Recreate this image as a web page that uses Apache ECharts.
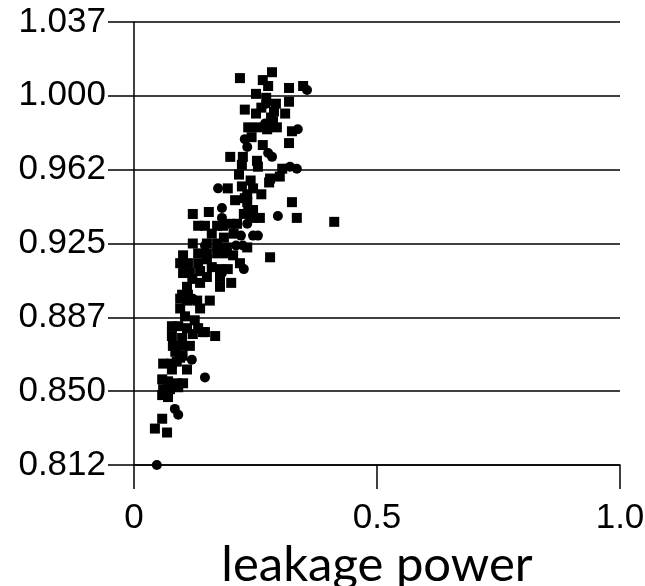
<!DOCTYPE html>
<html>
<head>
<meta charset="utf-8">
<script src="https://cdn.jsdelivr.net/npm/echarts@6/dist/echarts.min.js"></script>
<style>
html, body { margin: 0; background: #fff; }
#main { width: 645px; height: 586px; }
</style>
</head>
<body>
<div id="main"></div>
<script>
// axis ticks and their printed labels
var yTickValues = [0.8125, 0.85, 0.8875, 0.925, 0.9625, 1.0, 1.0375];
var yTickLabels = ['0.812', '0.850', '0.887', '0.925', '0.962', '1.000', '1.037'];
var xTickValues = [0, 0.5, 1.0];
var xTickLabels = ['0', '0.5', '1.0'];

// [leakage power, normalized value] - square markers
var squarePoints = [
  [0.218, 1.009], [0.284, 1.012], [0.265, 1.008], [0.276, 1.005], [0.319, 1.004],
  [0.348, 1.005], [0.251, 1.001], [0.272, 0.999], [0.319, 0.997], [0.292, 0.996],
  [0.228, 0.993], [0.251, 0.991], [0.288, 0.992], [0.311, 0.991], [0.282, 0.989],
  [0.286, 0.987], [0.235, 0.984], [0.255, 0.984], [0.274, 0.983], [0.294, 0.984],
  [0.325, 0.982], [0.319, 0.976], [0.198, 0.969], [0.224, 0.969], [0.253, 0.967],
  [0.222, 0.965], [0.305, 0.963], [0.216, 0.960], [0.300, 0.959], [0.280, 0.958],
  [0.255, 0.964], [0.278, 0.956], [0.222, 0.954], [0.245, 0.953], [0.193, 0.953],
  [0.233, 0.950], [0.228, 0.948], [0.325, 0.946], [0.233, 0.946], [0.235, 0.942],
  [0.121, 0.940], [0.154, 0.941], [0.245, 0.942], [0.259, 0.938], [0.245, 0.938],
  [0.335, 0.938], [0.412, 0.936], [0.132, 0.934], [0.146, 0.934], [0.171, 0.934],
  [0.183, 0.934], [0.198, 0.935], [0.212, 0.935], [0.121, 0.925], [0.233, 0.923],
  [0.280, 0.918], [0.150, 0.925], [0.171, 0.925], [0.191, 0.923], [0.101, 0.919],
  [0.132, 0.920], [0.150, 0.920], [0.171, 0.920], [0.191, 0.920], [0.204, 0.919],
  [0.095, 0.915], [0.111, 0.915], [0.132, 0.915], [0.150, 0.917], [0.218, 0.915],
  [0.101, 0.910], [0.115, 0.910], [0.136, 0.911], [0.160, 0.913], [0.177, 0.912],
  [0.193, 0.912], [0.177, 0.908], [0.177, 0.903], [0.136, 0.905], [0.109, 0.903],
  [0.099, 0.899], [0.111, 0.899], [0.095, 0.897], [0.109, 0.896], [0.130, 0.896],
  [0.156, 0.896], [0.095, 0.892], [0.136, 0.892], [0.078, 0.883], [0.091, 0.883],
  [0.109, 0.882], [0.132, 0.882], [0.146, 0.880], [0.167, 0.878], [0.078, 0.878],
  [0.099, 0.877], [0.121, 0.879], [0.142, 0.880], [0.080, 0.873], [0.099, 0.873],
  [0.115, 0.873], [0.060, 0.864], [0.078, 0.864], [0.088, 0.865], [0.095, 0.867],
  [0.078, 0.861], [0.109, 0.861], [0.058, 0.856], [0.070, 0.855], [0.088, 0.854],
  [0.101, 0.854], [0.060, 0.851], [0.074, 0.851], [0.091, 0.852], [0.058, 0.848],
  [0.070, 0.847], [0.058, 0.836], [0.043, 0.831], [0.068, 0.829],
  [0.262, 0.994], [0.242, 0.979], [0.265, 0.975], [0.240, 0.957], [0.262, 0.950],
  [0.208, 0.947], [0.226, 0.940], [0.160, 0.930], [0.185, 0.928], [0.205, 0.930],
  [0.120, 0.907], [0.150, 0.908], [0.200, 0.905], [0.105, 0.888], [0.125, 0.886],
  [0.085, 0.870], [0.100, 0.868]
];

// circle markers
var circlePoints = [
  [0.356, 1.003], [0.272, 0.996], [0.270, 0.986], [0.337, 0.983], [0.228, 0.978],
  [0.233, 0.974], [0.276, 0.971], [0.284, 0.969], [0.321, 0.964], [0.335, 0.963],
  [0.173, 0.953], [0.181, 0.943], [0.296, 0.939], [0.233, 0.935], [0.181, 0.938],
  [0.220, 0.929], [0.245, 0.929], [0.255, 0.929], [0.210, 0.924], [0.146, 0.924],
  [0.171, 0.922], [0.187, 0.922], [0.224, 0.924], [0.226, 0.912], [0.181, 0.910],
  [0.121, 0.897], [0.119, 0.866], [0.146, 0.857], [0.084, 0.841], [0.091, 0.838],
  [0.047, 0.8125]
];

function pickLabel(values, labels, v) {
  var best = 0;
  for (var i = 1; i < values.length; i++) {
    if (Math.abs(values[i] - v) < Math.abs(values[best] - v)) best = i;
  }
  return labels[best];
}

var myChart = echarts.init(document.getElementById('main'));
myChart.setOption({
  animation: false,
  grid: { left: 134, right: 25, top: 22, bottom: 121, outerBoundsMode: 'none' },
  xAxis: {
    type: 'value',
    min: 0,
    max: 1,
    interval: 0.5,
    name: 'leakage power',
    nameLocation: 'middle',
    nameGap: 64,
    nameTextStyle: { fontFamily: 'Lato', fontSize: 49, color: '#000' },
    axisLine: { onZero: false, lineStyle: { color: '#000', width: 1.5 } },
    axisTick: { show: true, length: 24, lineStyle: { color: '#000', width: 1.5 } },
    axisLabel: {
      margin: 36,
      fontFamily: 'Liberation Sans',
      fontSize: 35,
      color: '#000',
      formatter: function (v) { return pickLabel(xTickValues, xTickLabels, v); }
    },
    splitLine: { show: false }
  },
  yAxis: {
    type: 'value',
    min: yTickValues[0],
    max: yTickValues[yTickValues.length - 1],
    axisLine: { show: true, onZero: false, lineStyle: { color: '#000', width: 1.5 } },
    axisTick: {
      show: true, length: 26, customValues: yTickValues,
      lineStyle: { color: '#000', width: 1.5 }
    },
    axisLabel: {
      margin: 28,
      fontFamily: 'Liberation Sans',
      fontSize: 35,
      color: '#000',
      customValues: yTickValues,
      formatter: function (v) { return pickLabel(yTickValues, yTickLabels, v); }
    },
    splitLine: { show: true, lineStyle: { color: '#000', width: 1.5 } }
  },
  series: [
    {
      name: 'square',
      type: 'scatter',
      symbol: 'rect',
      symbolSize: 10,
      clip: false,
      itemStyle: { color: '#000', opacity: 1 },
      data: squarePoints
    },
    {
      name: 'circle',
      type: 'scatter',
      symbol: 'circle',
      symbolSize: 10,
      clip: false,
      itemStyle: { color: '#000', opacity: 1 },
      data: circlePoints
    }
  ]
});
</script>
</body>
</html>
